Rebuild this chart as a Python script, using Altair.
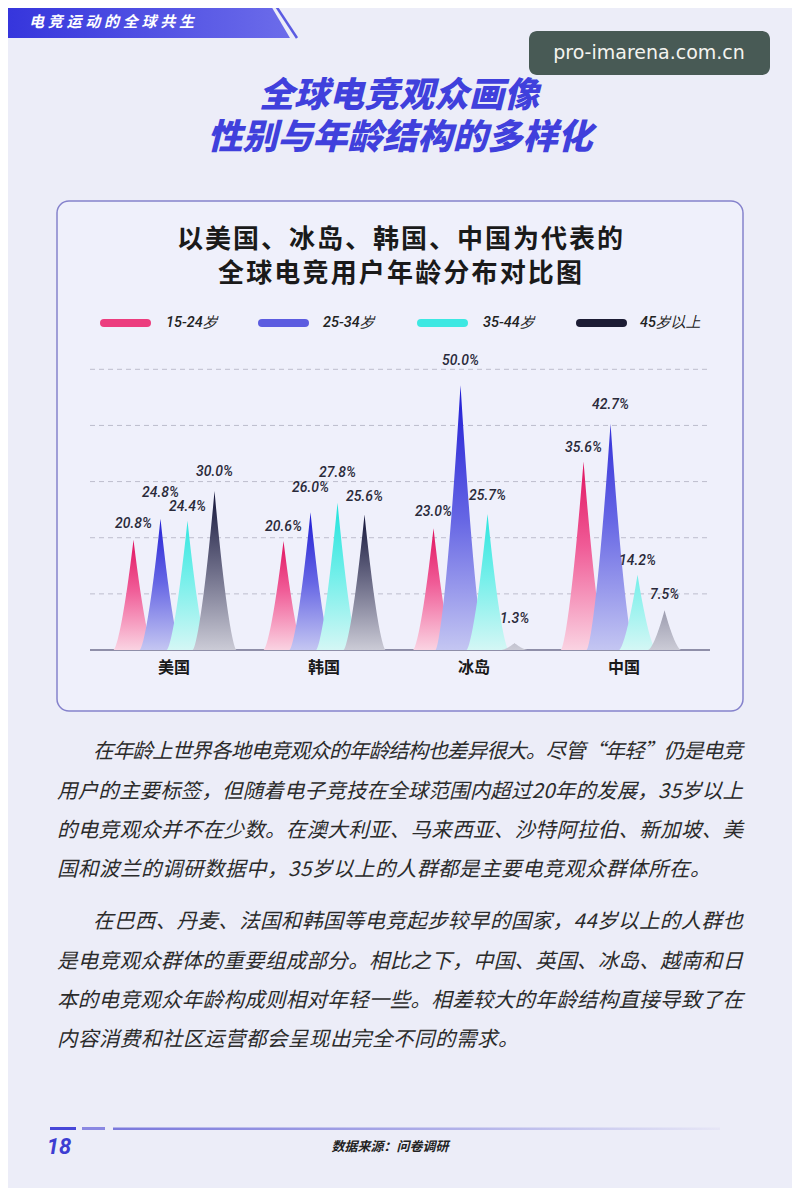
import altair as alt
import pandas as pd
import numpy as np

# ---------------- data ----------------
countries = ["美国", "韩国", "冰岛", "中国"]
age_groups = ["15-24岁", "25-34岁", "35-44岁", "45岁以上"]
share_15_24 = [20.8, 20.6, 23.0, 35.6]
share_25_34 = [24.8, 26.0, 50.0, 42.7]
share_35_44 = [24.4, 27.8, 25.7, 14.2]
share_45_up = [30.0, 25.6, 1.3, 7.5]
series_values = [share_15_24, share_25_34, share_35_44, share_45_up]

# ---------------- styles ----------------
O = 8  # page margin offset
CJK = "Noto Sans CJK SC"
LATIN = "Roboto"
series_offsets = [-0.27, -0.09, 0.09, 0.27]
grid_levels = [10.6, 21.2, 31.8, 42.4, 53.0]
PX_PER_UNIT = (650 - 369.3) / 53.0
# pixel lift of each value label above its peak tip (series x country), as laid out in the reference
label_lift = [
    [16, 14, 16, 13],
    [26, 24, 24, 19],
    [14, 30, 18, 14],
    [19, 17, 24, 15],
]
peak_stops = [
    [("#e0135f", 0.0), ("#f05c97", 0.45), ("#fad3e2", 1.0)],
    [("#1f1bd4", 0.0), ("#6565e4", 0.5), ("#c4c6f2", 1.0)],
    [("#1de3dc", 0.0), ("#74efea", 0.5), ("#d4f7f5", 1.0)],
    [("#14153a", 0.0), ("#6d6d88", 0.5), ("#cbcbd6", 1.0)],
]
legend_colors = ["#ec3d7e", "#5c5ce0", "#3de8e2", "#1c1c34"]
legend_bar_x = [(104, 147), (262, 305), (421, 464), (580, 623)]
legend_text_x = [166, 323, 483, 640]

xs = alt.Scale(domain=[-0.56, 3.573], range=[90 - O, 710 - O], nice=False, zero=False)
ys = alt.Scale(domain=[0, 53], range=[650 - O, 369.3 - O], nice=False)

one = pd.DataFrame({"k": [0]})


def grad(stops, horizontal=False):
    return alt.Gradient(
        gradient="linear",
        stops=[alt.GradientStop(color=c, offset=o) for c, o in stops],
        x1=0, x2=1 if horizontal else 0, y1=0, y2=0 if horizontal else 1,
    )


def txt(text, x, y, **kw):
    return alt.Chart(one).mark_text(text=text, **kw).encode(x=alt.value(x - O), y=alt.value(y - O))


def box(x1, x2, y1, y2, **kw):
    return alt.Chart(one).mark_rect(**kw).encode(
        x=alt.value(x1 - O), x2=alt.value(x2 - O), y=alt.value(y1 - O), y2=alt.value(y2 - O))


def em_width(ch):
    if ch.isascii():
        return 0.56
    return 1.0


def spaced_chars(text, x0, y0, fs, x_end=None, spacing=0.0):
    """character table for a line of text, optionally justified to x_end"""
    widths = [em_width(c) * fs for c in text]
    if x_end is not None:
        spacing = (x_end - x0 - sum(widths)) / (len(text) - 1)
    rows, cur = [], x0
    for c, w in zip(text, widths):
        rows.append({"ch": c, "px": cur + w / 2 - O, "py": y0 - O})
        cur += w + spacing
    return rows


layers = []

# header banner
banner_path = "M -1 -1 L 0.845 -1 L 1 -0.738 L -1 -0.738 Z"
layers.append(
    alt.Chart(one).mark_point(shape=banner_path, size=290 * 290, filled=True, opacity=1,
                              fill=grad([("#3434dc", 0.0), ("#6c6cea", 1.0)], horizontal=True),
                              strokeWidth=0)
    .encode(x=alt.value(145 - O), y=alt.value(145 - O))
)
layers.append(
    alt.Chart(one).mark_rule(stroke="#5b5be2", strokeWidth=2.5).encode(
        x=alt.value(272 - O), x2=alt.value(297 - O), y=alt.value(0 - O), y2=alt.value(38 - O))
)
banner_df = pd.DataFrame(spaced_chars("电竞运动的全球共生", 29, 22, 15, x_end=194))
layers.append(
    alt.Chart(banner_df).mark_text(font=CJK, fontSize=15, fontWeight="bold", fontStyle="italic",
                                   color="white", align="center", baseline="middle").encode(
        x=alt.X("px:Q", scale=None), y=alt.Y("py:Q", scale=None), text="ch:N")
)

# watermark
layers.append(box(529, 770, 31, 75, fill="#485a55", cornerRadius=8))
layers.append(txt("pro-imarena.com.cn", 649, 53, font="DejaVu Sans", fontSize=19, color="#f4f4f0",
                  align="center", baseline="middle"))

# page title
layers.append(txt("全球电竞观众画像", 399, 96, font=CJK, fontSize=35, fontWeight=900, fontStyle="italic",
                  color="#4040dc", align="center", baseline="middle"))
layers.append(txt("性别与年龄结构的多样化", 400, 138, font=CJK, fontSize=35, fontWeight=900, fontStyle="italic",
                  color="#4040dc", align="center", baseline="middle"))

# panel
layers.append(box(57, 743, 201, 711, fill="#eff0fb", stroke="#8582cc", strokeWidth=1.5, cornerRadius=12))

# chart title (spaced characters)
title_rows = spaced_chars("以美国、冰岛、韩国、中国为代表的", 177, 240, 26, x_end=623) + \
    spaced_chars("全球电竞用户年龄分布对比图", 218, 274, 26, x_end=582)
layers.append(
    alt.Chart(pd.DataFrame(title_rows)).mark_text(font=CJK, fontSize=26, fontWeight="bold",
                                                  color="#1a1a1a", align="center", baseline="middle").encode(
        x=alt.X("px:Q", scale=None), y=alt.Y("py:Q", scale=None), text="ch:N")
)

# legend
for i, lab in enumerate(age_groups):
    bx1, bx2 = legend_bar_x[i]
    layers.append(
        alt.Chart(one).mark_rule(stroke=legend_colors[i], strokeWidth=8, strokeCap="round").encode(
            x=alt.value(bx1 - O), x2=alt.value(bx2 - O), y=alt.value(323 - O))
    )
    layers.append(txt(lab, legend_text_x[i], 323, font=LATIN, fontSize=14.5, fontStyle="italic",
                      fontWeight=500, color="#222222", align="left", baseline="middle"))

# gridlines and baseline (through y scale)
grid_df = pd.DataFrame({"level": grid_levels})
layers.append(
    alt.Chart(grid_df).mark_rule(stroke="#bdbdcd", strokeWidth=1, strokeDash=[5, 4]).encode(
        y=alt.Y("level:Q", scale=ys, axis=None), x=alt.value(90 - O), x2=alt.value(710 - O))
)
base_df = pd.DataFrame({"level": [0.0]})
layers.append(
    alt.Chart(base_df).mark_rule(stroke="#8f8fa8", strokeWidth=2).encode(
        y=alt.Y("level:Q", scale=ys, axis=None), x=alt.value(90 - O), x2=alt.value(710 - O))
)

# peaks
t = np.linspace(-1, 1, 81)
for s, vals in enumerate(series_values):
    rows = []
    for g, (c, v) in enumerate(zip(countries, vals)):
        hw = (11 + 14 * np.sqrt(v / 50.0)) / 150.0
        for tt in t:
            rows.append({"country": c, "x": g + series_offsets[s] + tt * hw,
                         "y": v * (1 - abs(tt)) ** 1.5})
    pdf = pd.DataFrame(rows)
    layers.append(
        alt.Chart(pdf).mark_area(color=grad(peak_stops[s]), interpolate="linear").encode(
            x=alt.X("x:Q", scale=xs, axis=None),
            y=alt.Y("y:Q", scale=ys, axis=None),
            detail="country:N",
        )
    )

# value labels
lab_rows = []
for s, vals in enumerate(series_values):
    for g, v in enumerate(vals):
        lab_rows.append({"x": g + series_offsets[s], "ly": v + label_lift[s][g] / PX_PER_UNIT,
                         "label": f"{v:.1f}%"})
lab_df = pd.DataFrame(lab_rows)
layers.append(
    alt.Chart(lab_df).mark_text(font=LATIN, fontSize=14, fontStyle="italic", fontWeight=500, color="#2a2a3a",
                                baseline="middle", align="center").encode(
        x=alt.X("x:Q", scale=xs, axis=None), y=alt.Y("ly:Q", scale=ys, axis=None), text="label:N")
)

# country labels
c_df = pd.DataFrame({"g": list(range(len(countries))), "country": countries})
layers.append(
    alt.Chart(c_df).mark_text(font=CJK, fontSize=16, fontWeight="bold", color="#1a1a1a",
                              baseline="middle", align="center").encode(
        x=alt.X("g:Q", scale=xs, axis=None), y=alt.value(668 - O), text="country:N")
)

# body text
body_lines = [
    ("在年龄上世界各地电竞观众的年龄结构也差异很大。尽管“年轻”仍是电竞", 93, 752, True),
    ("用户的主要标签，但随着电子竞技在全球范围内超过20年的发展，35岁以上", 57, 792, True),
    ("的电竞观众并不在少数。在澳大利亚、马来西亚、沙特阿拉伯、新加坡、美", 57, 831, True),
    ("国和波兰的调研数据中，35岁以上的人群都是主要电竞观众群体所在。", 57, 870, False),
    ("在巴西、丹麦、法国和韩国等电竞起步较早的国家，44岁以上的人群也", 93, 922, True),
    ("是电竞观众群体的重要组成部分。相比之下，中国、英国、冰岛、越南和日", 57, 962, True),
    ("本的电竞观众年龄构成则相对年轻一些。相差较大的年龄结构直接导致了在", 57, 1001, True),
    ("内容消费和社区运营都会呈现出完全不同的需求。", 57, 1040, False),
]
FS = 20.5
body_rows = []
for text, x0, y0, justify in body_lines:
    if justify:
        body_rows += spaced_chars(text, x0, y0, FS, x_end=743)
    else:
        body_rows += spaced_chars(text, x0, y0, FS, spacing=0.5)
layers.append(
    alt.Chart(pd.DataFrame(body_rows)).mark_text(font=CJK, fontSize=FS, fontStyle="italic", color="#2b2b2b",
                                                 align="center", baseline="middle").encode(
        x=alt.X("px:Q", scale=None), y=alt.Y("py:Q", scale=None), text="ch:N")
)

# footer
layers.append(box(50, 76, 1127, 1130, fill="#4747d8"))
layers.append(box(82, 105, 1127, 1130, fill="#8a88e2"))
layers.append(box(113, 720, 1127.5, 1130, fill=grad([("#7a78dc", 0.0), ("#b4b4ea", 0.6), ("#e6e6f6", 1.0)],
                                                      horizontal=True)))
layers.append(txt("18", 59, 1147, font=LATIN, fontSize=22, fontWeight="bold", fontStyle="italic",
                  color="#3d3dd2", align="center", baseline="middle"))
layers.append(txt("数据来源：问卷调研", 390, 1147, font=CJK, fontSize=13, fontWeight="bold",
                  fontStyle="italic", color="#222222", align="center", baseline="middle"))

chart = (
    alt.layer(*layers)
    .resolve_scale(x="independent", y="independent")
    .properties(width=784, height=1180, autosize=alt.AutoSizeParams(type="none"), padding=0)
    .configure(background="#ecedf8")
    .configure_view(strokeWidth=0)
)

chart.save("out.html", embed_options={"renderer": "svg", "actions": False})
